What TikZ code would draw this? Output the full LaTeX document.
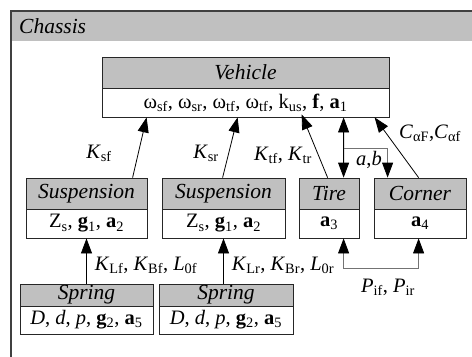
\documentclass[tikz,border=0pt]{standalone}
\usepackage{fontspec}
\setmainfont{Liberation Serif}
\usetikzlibrary{arrows.meta,calc}
\newcommand{\sbs}[1]{\textsubscript{#1}}
\definecolor{hdr}{HTML}{C0C0C0}
\definecolor{frm}{HTML}{404040}
\begin{document}
\begin{tikzpicture}[x=1bp,y=-1bp,
  font=\fontsize{20.5bp}{24bp}\selectfont,
  ttl/.style={draw=black!85, fill=hdr, minimum height=31bp, inner sep=0pt, line width=0.8bp, font=\fontsize{21.5bp}{24bp}\selectfont\itshape},
  bdy/.style={draw=black!85, fill=white, minimum height=29bp, inner sep=0pt, line width=0.8bp},
  tip/.style={Triangle[length=15bp,width=11bp,color=black]},
  conn/.style={line width=0.8bp, draw=black, -{Triangle[length=15bp,width=11bp]}},
  conn2/.style={line width=0.8bp, draw=black, {Triangle[length=15bp,width=11bp]}-{Triangle[length=15bp,width=11bp]}},
  gconn/.style={line width=0.8bp, draw=black!55, -{Triangle[length=15bp,width=11bp,color=black]}},
  gconn2/.style={line width=0.8bp, draw=black!55, {Triangle[length=15bp,width=11bp,color=black]}-{Triangle[length=15bp,width=11bp,color=black]}},
  lbl/.style={inner sep=0pt}]
\useasboundingbox (0,0) rectangle (472,356);
\begin{scope}
  \clip (0,0) rectangle (472,356);
  \fill[hdr] (11,11) rectangle (480,41);
  \draw[frm, line width=1.3bp] (11,365) -- (11,11) -- (480,11);
\end{scope}
\node[lbl, anchor=west, font=\fontsize{21.5bp}{24bp}\selectfont\itshape] (chs) at (19,26) {Chassis};

% Vehicle
\node[ttl, minimum width=287bp] (veh) at (245.5,72.5) {Vehicle};
\node[bdy, minimum width=287bp] (vehb) at (245.5,102.5) {ω\sbs{sf}, ω\sbs{sr}, ω\sbs{tf}, ω\sbs{tf}, k\sbs{us}, \textbf{f}, \textbf{a}\sbs{1}};

% Suspensions
\node[ttl, minimum width=121bp] (sus1) at (86.5,193.5) {Suspension};
\node[bdy, minimum width=121bp] (sus1b) at (86.5,223.5) {Z\sbs{s}, \textbf{g}\sbs{1}, \textbf{a}\sbs{2}};
\node[ttl, minimum width=123bp] (sus2) at (223.5,193.5) {Suspension};
\node[bdy, minimum width=123bp] (sus2b) at (223.5,223.5) {Z\sbs{s}, \textbf{g}\sbs{1}, \textbf{a}\sbs{2}};

% Tire and Corner
\node[ttl, minimum width=60bp] (tire) at (329,193.5) {Tire};
\node[bdy, minimum width=60bp] (tireb) at (329,223.5) {\textbf{a}\sbs{3}};
\node[ttl, minimum width=92bp] (cor) at (420,193.5) {Corner};
\node[bdy, minimum width=92bp] (corb) at (420,223.5) {\textbf{a}\sbs{4}};

% Springs
\node[ttl, minimum width=133bp, minimum height=22bp] (spr1) at (86.5,295) {Spring};
\node[bdy, minimum width=133bp, minimum height=28bp] (spr1b) at (86.5,320) {\textit{D}, \textit{d}, \textit{p}, \textbf{g}\sbs{2}, \textbf{a}\sbs{5}};
\node[ttl, minimum width=134bp, minimum height=22bp] (spr2) at (226,295) {Spring};
\node[bdy, minimum width=134bp, minimum height=28bp] (spr2b) at (226,320) {\textit{D}, \textit{d}, \textit{p}, \textbf{g}\sbs{2}, \textbf{a}\sbs{5}};

% connectors to vehicle
\draw[conn] ($(sus1.north west)+(107,0)$) -- ($(vehb.south west)+(45,0)$);
\draw[conn] ($(sus2.north west)+(61,0)$) -- ($(vehb.south west)+(136,0)$);
\draw[conn] ($(tire.north west)+(29,0)$) -- ($(vehb.south west)+(200,-3)$);
\coordinate (vt) at ($(vehb.south west)+(242,0)$);
\coordinate (tt) at ($(tire.north west)+(45,0)$);
\draw[conn2] (vt) -- (tt);
\coordinate (br) at ($(vt)!0.51!(tt)$);
\draw[gconn] (br) -| ($(cor.north west)+(14,0)$);
\draw[conn] ($(cor.north west)+(45,0)$) -- ($(vehb.south west)+(273,0)$);

% springs to suspensions
\draw[conn] (sus1b.south |- spr1.north) -- (sus1b.south);
\draw[conn] (sus2b.south |- spr2.north) -- (sus2b.south);

% P link
\draw[gconn2] ($(tireb.south west)+(45,0)$) -- ++(0,30) -| ($(corb.south west)+(45,0)$);

% labels
\node[lbl] (lksf) at (99,153) {\textit{K}\sbs{sf}};
\node[lbl] (lksr) at (206,153) {\textit{K}\sbs{sr}};
\node[lbl] (lkt) at (283,155) {\textit{K}\sbs{tf}, \textit{K}\sbs{tr}};
\node[lbl] (lab) at (369,160) {\textit{a},\textit{b}};
\node[lbl] (lca) at (430,133) {\textit{C}\sbs{αF},\textit{C}\sbs{αf}};
\node[lbl] (lkf) at (146,265) {\textit{K}\sbs{Lf}, \textit{K}\sbs{Bf}, \textit{L}\sbs{0f}};
\node[lbl] (lkr) at (283,265) {\textit{K}\sbs{Lr}, \textit{K}\sbs{Br}, \textit{L}\sbs{0r}};
\node[lbl] (lp) at (388,287) {\textit{P}\sbs{if}, \textit{P}\sbs{ir}};
\end{tikzpicture}
\end{document}
